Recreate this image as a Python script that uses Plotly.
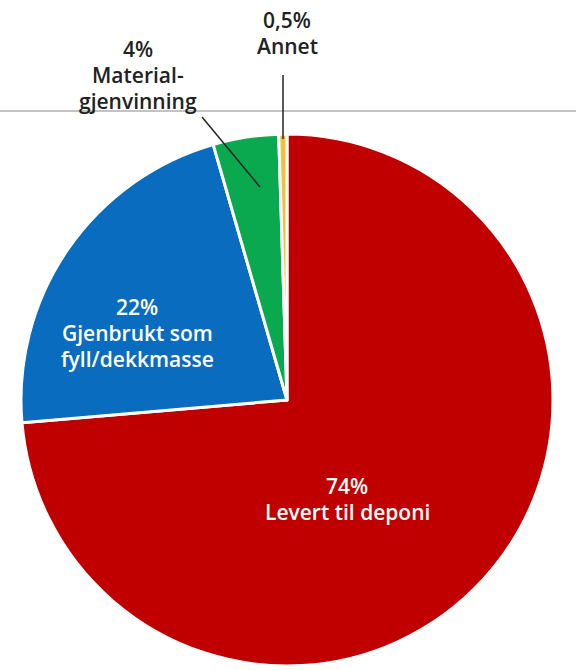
import plotly.graph_objects as go

# Data
categories = ["Levert til deponi", "Gjenbrukt som fyll/dekkmasse", "Materialgjenvinning", "Annet"]
values = [74, 22, 4, 0.5]
pct_labels = ["74%", "22%", "4%", "0,5%"]
label_lines = [
    ["Levert til deponi"],
    ["Gjenbrukt som", "fyll/dekkmasse"],
    ["Material-", "gjenvinning"],
    ["Annet"],
]
colors = ["#c00000", "#0a6cbf", "#0aa84f", "#f5c040"]

W, H = 576, 670

def px(x):
    return x / W

def py(y):
    return 1 - y / H

cx, cy, r = 287, 400, 266

fig = go.Figure()
fig.add_trace(go.Pie(
    labels=categories,
    values=values,
    sort=False,
    direction="clockwise",
    rotation=0,
    textinfo="none",
    hoverinfo="label+percent",
    marker=dict(colors=colors, line=dict(color="white", width=3)),
    domain=dict(x=[px(cx - r), px(cx + r)], y=[py(cy + r), py(cy - r)]),
    showlegend=False,
))

font_in = dict(family="Open Sans", size=21, color="white", weight=600)
font_out = dict(family="Open Sans", size=21, color="#222222", weight=600)

# label block anchors (centre x, first-line centre y, line step, font)
blocks = [
    (347, 486, 26, font_in),
    (137, 307, 26, font_in),
    (138, 49, 26, font_out),
    (287, 20, 26, font_out),
]

annotations = []
for i, (bx, by, step, f) in enumerate(blocks):
    lines = [pct_labels[i]] + label_lines[i]
    for j, t in enumerate(lines):
        annotations.append(dict(
            x=px(bx), y=py(by + j * step), text=t, font=f,
            xref="paper", yref="paper", showarrow=False,
            xanchor="center", yanchor="middle",
        ))

shapes = [
    dict(type="line", xref="paper", yref="paper", x0=0, x1=1, y0=py(111), y1=py(111),
         line=dict(color="#888888", width=1), layer="below"),
    dict(type="line", xref="paper", yref="paper", x0=px(202), x1=px(260), y0=py(117), y1=py(187),
         line=dict(color="#222222", width=1.5)),
    dict(type="line", xref="paper", yref="paper", x0=px(283), x1=px(283), y0=py(75), y1=py(139),
         line=dict(color="#222222", width=1.5)),
]

fig.update_layout(
    width=W, height=H,
    margin=dict(l=0, r=0, t=0, b=0),
    paper_bgcolor="white",
    plot_bgcolor="white",
    annotations=annotations,
    shapes=shapes,
)

fig.write_html("out.html", config={"displayModeBar": False},
               post_script="document.body.style.margin='0';")
